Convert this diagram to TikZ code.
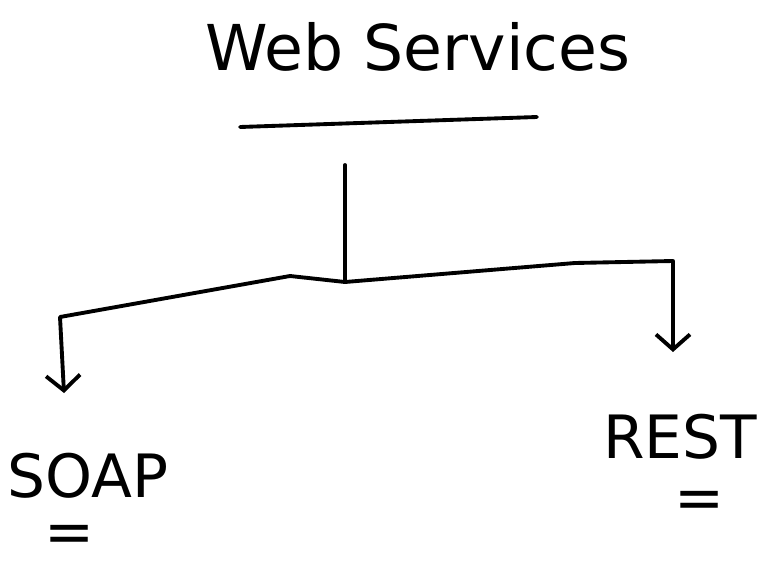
\documentclass[tikz,border=0pt]{standalone}
\usepackage{fontspec}
\setmainfont{DejaVu Sans}
\usetikzlibrary{arrows.meta}
\tikzset{dblbar/.style={inner sep=0pt, text height=0.5em, text depth=0pt}}
\begin{document}
\begin{tikzpicture}[scale=1.0, >={Straight Barb[length=1.5mm,width=3.4mm]},
  line width=1.1pt, line cap=round, line join=round]
  \useasboundingbox (0,0) rectangle (7.58,5.62);
  \node (title) at (4.18,5.15) {\fontsize{18}{22}\selectfont Web Services};
  \node (soap) at (0.88,0.86) {\fontsize{17}{21}\selectfont SOAP};
  \node (rest) at (6.80,1.25) {\fontsize{17}{21}\selectfont REST};
  \node[dblbar] (soapmark) at (0.70,0.18) {\fontsize{17}{21}\selectfont =};
  \node[dblbar] (restmark) at (7.00,0.52) {\fontsize{17}{21}\selectfont =};
  \coordinate (top) at (3.45,3.97);
  \coordinate (fork) at (3.45,2.80);
  \coordinate (soaptip) at (0.64,1.69);
  \coordinate (resttip) at (6.73,2.10);
  % underline of the title
  \draw (2.40,4.35) -- (5.37,4.45);
  % tree
  \draw (top) -- (fork);
  \draw[->] (fork) -- (2.90,2.86) -- (0.60,2.45) -- (soaptip);
  \draw[->] (fork) -- (5.75,2.99) -- (6.73,3.01) -- (resttip);
\end{tikzpicture}
\end{document}
